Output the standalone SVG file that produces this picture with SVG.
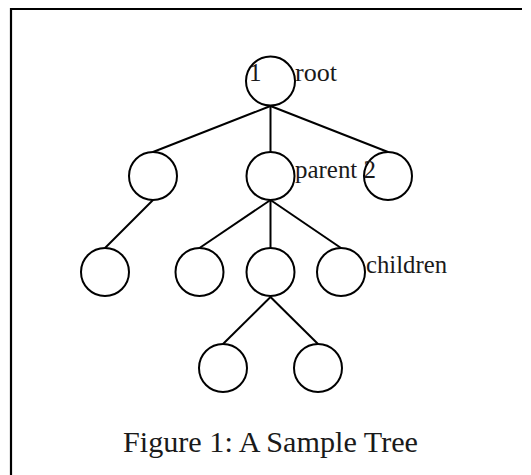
<svg xmlns="http://www.w3.org/2000/svg" width="531" height="475" viewBox="0 0 531 475">
  <style>
    .node { fill: #ffffff; stroke: #000000; stroke-width: 2; }
    .edge { stroke: #000000; stroke-width: 2; fill: none; }
    .frame { stroke: #000000; stroke-width: 2.2; fill: none; }
    .label { font-family: "Liberation Serif", "Times New Roman", serif; font-size: 25px; fill: #1a1a1a; }
    .caption { font-family: "Liberation Serif", "Times New Roman", serif; font-size: 30px; fill: #1a1a1a; }
  </style>
  <rect width="531" height="475" fill="#ffffff"/>

  <!-- frame: top and left rules -->
  <path class="frame" d="M11 475 V9 H522"/>

  <!-- connectors -->
  <g id="edges">
    <line class="edge" x1="270.5" y1="106" x2="153" y2="152"/>
    <line class="edge" x1="270.5" y1="106" x2="270.5" y2="152"/>
    <line class="edge" x1="270.5" y1="106" x2="388" y2="152"/>
    <line class="edge" x1="153" y1="200" x2="105" y2="248"/>
    <line class="edge" x1="270.5" y1="200" x2="199.5" y2="248"/>
    <line class="edge" x1="270.5" y1="200" x2="270.5" y2="248"/>
    <line class="edge" x1="270.5" y1="200" x2="341" y2="248"/>
    <line class="edge" x1="270.5" y1="297" x2="223" y2="344"/>
    <line class="edge" x1="270.5" y1="297" x2="318" y2="344"/>
  </g>

  <!-- tree nodes -->
  <g id="root"><circle class="node" cx="270.5" cy="81" r="24.5"/></g>
  <g id="n-left"><circle class="node" cx="153" cy="176" r="24"/></g>
  <g id="parent"><circle class="node" cx="270.5" cy="176" r="24"/></g>
  <g id="n-right"><circle class="node" cx="388" cy="176" r="24"/></g>
  <g id="leaf-a"><circle class="node" cx="105" cy="272" r="24"/></g>
  <g id="child-1"><circle class="node" cx="199.5" cy="272" r="24"/></g>
  <g id="child-2"><circle class="node" cx="270.5" cy="272" r="24"/></g>
  <g id="child-3"><circle class="node" cx="341" cy="272" r="24"/></g>
  <g id="leaf-b"><circle class="node" cx="223" cy="368" r="24"/></g>
  <g id="leaf-c"><circle class="node" cx="318" cy="368" r="24"/></g>

  <!-- labels -->
  <g id="labels">
    <text class="label" x="249" y="81">1</text>
    <text class="label" x="295" y="81" textLength="42" lengthAdjust="spacingAndGlyphs">root</text>
    <text class="label" x="295" y="178" textLength="81" lengthAdjust="spacingAndGlyphs">parent 2</text>
    <text class="label" x="366" y="273" textLength="81" lengthAdjust="spacingAndGlyphs">children</text>
  </g>

  <text id="caption" class="caption" x="123" y="452" textLength="295" lengthAdjust="spacingAndGlyphs">Figure 1: A Sample Tree</text>
</svg>
